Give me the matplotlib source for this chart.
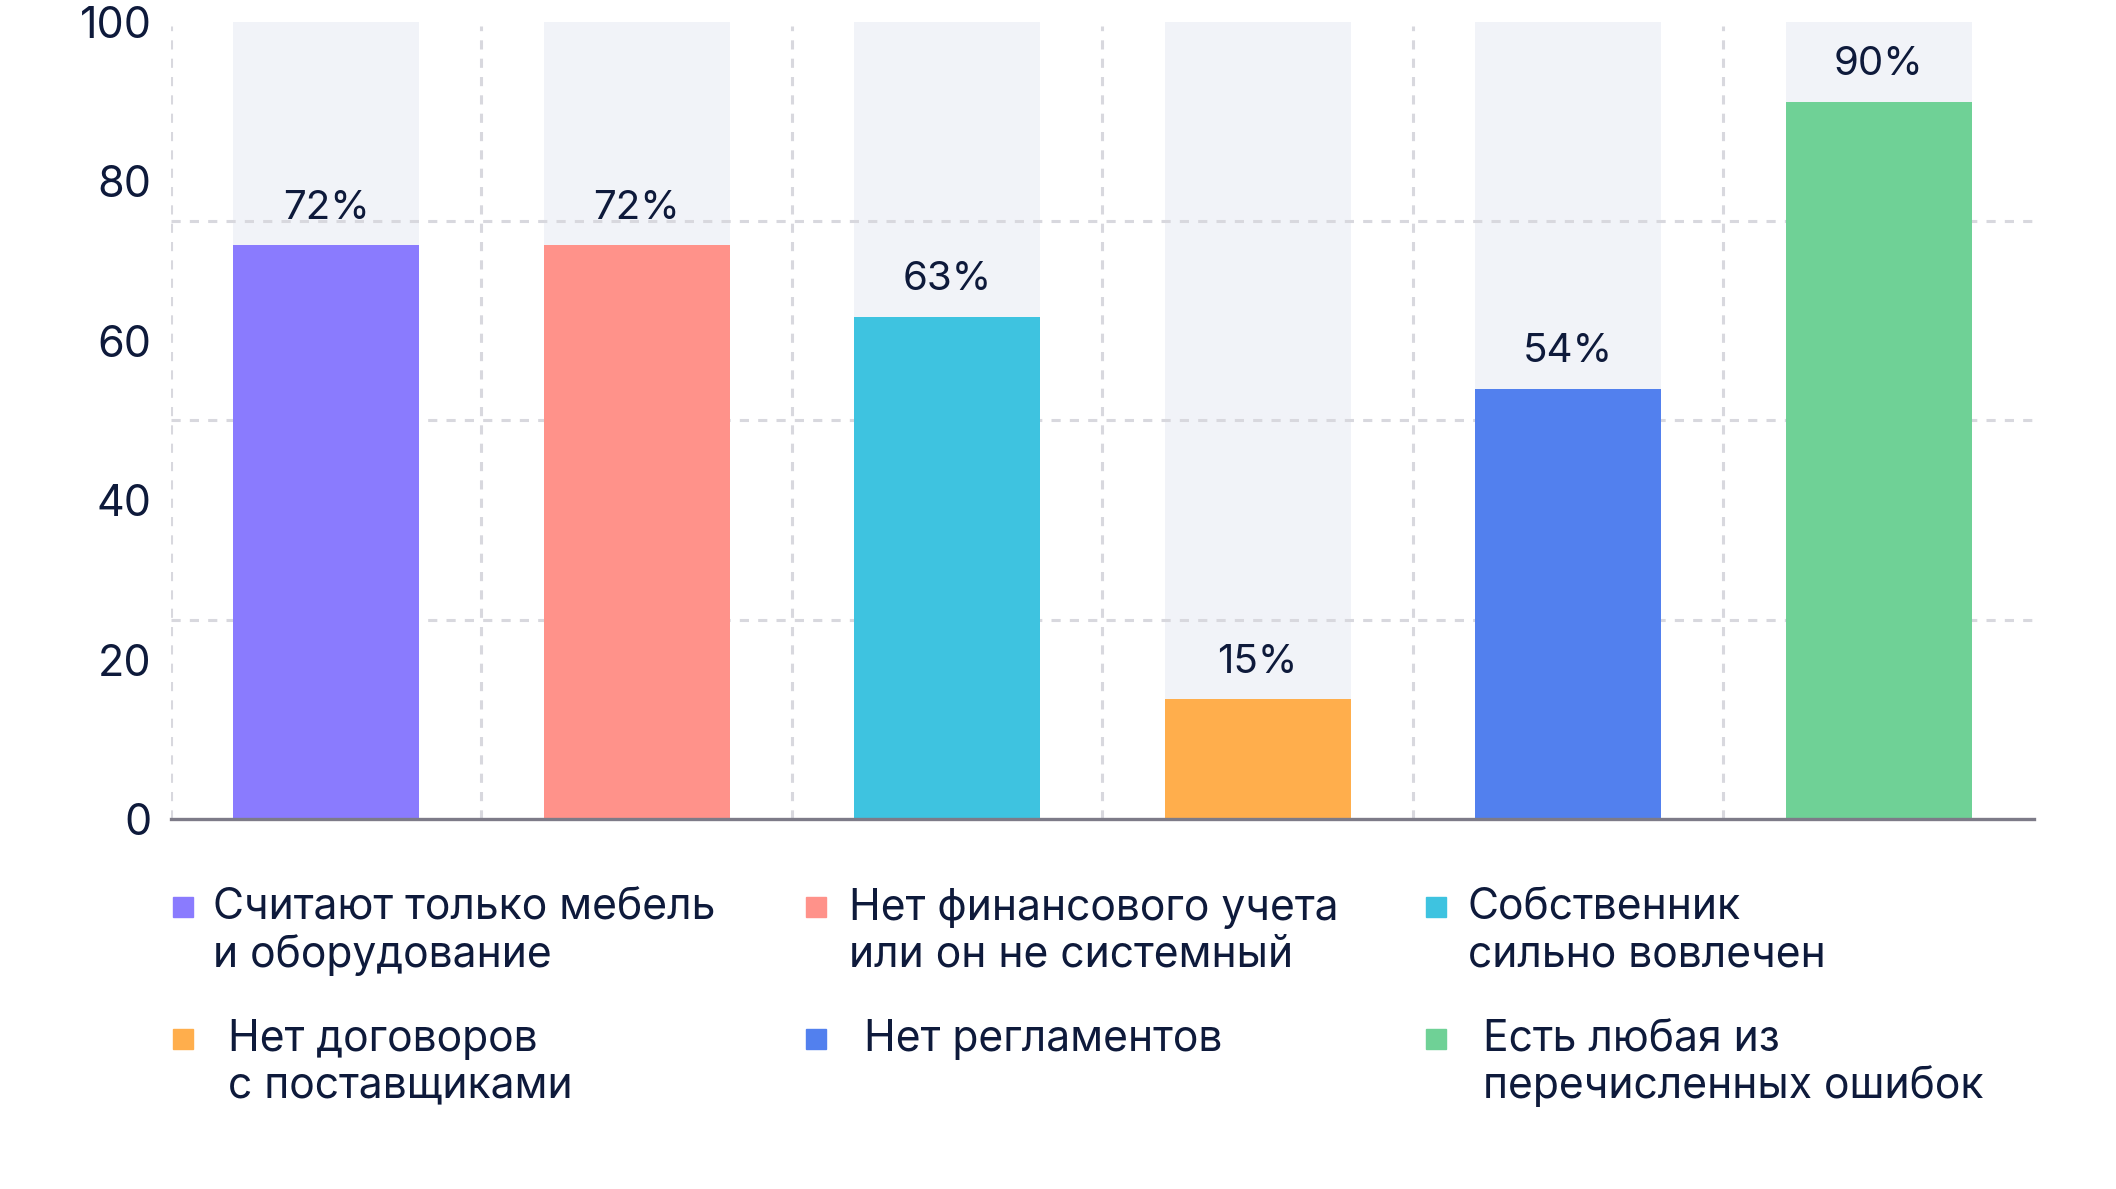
import numpy as np
import matplotlib
matplotlib.use("Agg")
import matplotlib.pyplot as plt
from matplotlib.patches import Rectangle

## Data
categories = ["Считают только мебель\nи оборудование",
              "Нет финансового учета\nили он не системный",
              "Собственник\nсильно вовлечен",
              "Нет договоров\nс поставщиками",
              "Нет регламентов",
              "Есть любая из\nперечисленных ошибок"]
values = [72, 72, 63, 15, 54, 90]
colors = ["#8a7bfe", "#ff928a", "#3ec3e0", "#ffae4c", "#5280ee", "#6fd196"]
yticks = [0, 20, 40, 60, 80, 100]
grid_y = [25, 50, 75]

TXT = "#0e1a3b"
GRID = "#d8d8de"
plt.rcParams['font.family'] = ['Inter', 'DejaVu Sans']

fig = plt.figure(figsize=(21.16, 11.89), dpi=100)
ax = fig.add_axes([0.0808, 0.3112, 0.8804, 0.6703])

x = np.arange(len(values))
# light background bars up to 100
ax.bar(x, [100] * len(values), width=0.6, color="#f1f3f8", zorder=1)
# dashed grid
for g in grid_y:
    ax.axhline(g, color=GRID, lw=2.2, ls=(0, (3, 3)), zorder=2)
for b in x - 0.5:
    ax.axvline(b, ymax=0.995, color=GRID, lw=2.2, ls=(0, (3, 3)), zorder=2)
bars = ax.bar(x, values, width=0.6, color=colors, zorder=3)

for xi, v in zip(x, values):
    ax.annotate(f"{v}%", (xi, v), xytext=(0, 19), textcoords="offset points",
                ha="center", va="baseline", fontsize=29, color=TXT, zorder=4)

ax.set_xlim(-0.5, len(values) - 0.5)
ax.set_ylim(0, 100)
ax.set_yticks(yticks)
ax.set_yticklabels([str(t) for t in yticks])
ax.tick_params(axis="y", length=0, pad=14, labelsize=31, labelcolor=TXT)
ax.set_xticks([])
for s in ["left", "right", "top"]:
    ax.spines[s].set_visible(False)
ax.spines["bottom"].set_color("#7d7b88")
ax.spines["bottom"].set_linewidth(2.4)
ax.spines["bottom"].set_zorder(5)

# legend, drawn by hand in 3 columns x 2 rows
W, H = 2116.0, 1189.0
marker_x = [173, 806, 1426]
text_x = [[213, 849, 1468], [228, 864, 1483]]
marker_y = [907, 1039]
text_y = [888, 1019]
for i, (lab, c) in enumerate(zip(categories, colors)):
    row, col = divmod(i, 3)
    fig.patches.append(Rectangle((marker_x[col] / W, 1 - (marker_y[row] + 10) / H),
                                 20 / W, 20 / H, transform=fig.transFigure,
                                 color=c, figure=fig))
    fig.text(text_x[row][col] / W, 1 - text_y[row] / H, lab, ha="left", va="top",
             fontsize=30.7, color=TXT, linespacing=1.16)

fig.savefig("out.png", dpi=100)
